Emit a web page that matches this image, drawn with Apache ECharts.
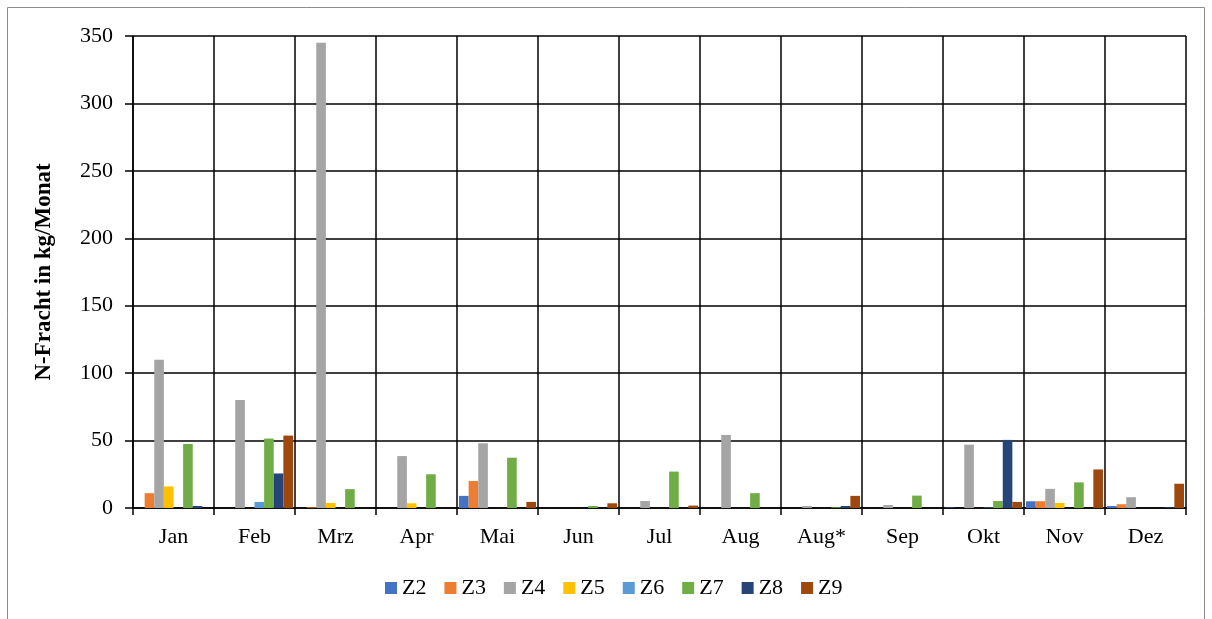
<!DOCTYPE html>
<html lang="de">
<head>
    <meta charset="UTF-8">
    <title>N-Fracht</title>
    <script src="https://cdn.jsdelivr.net/npm/echarts@6/dist/echarts.min.js"></script>
    <style>
        html, body { margin: 0; padding: 0; background: #fff; }
        #chart { width: 1212px; height: 619px; }
    </style>
</head>
<body>
<div id="chart"></div>
<script type="text/javascript">
	// Monate (Kategorien)
	var months = ['Jan', 'Feb', 'Mrz', 'Apr', 'Mai', 'Jun', 'Jul', 'Aug', 'Aug*', 'Sep', 'Okt', 'Nov', 'Dez'];
	var seriesNames = ['Z2', 'Z3', 'Z4', 'Z5', 'Z6', 'Z7', 'Z8', 'Z9'];
	var colors = ['#4472C4', '#ED7D31', '#A5A5A5', '#FFC000', '#5B9BD5', '#70AD47', '#264478', '#9E480E'];

	// Werte je Messstelle, kg/Monat
	var z2 = [0, 0, 0, 0, 9, 0, 0, 0, 0, 0, 0.3, 5, 1.5];
	var z3 = [11, 0, 0.5, 0, 20, 0, 0, 0, 0, 0, 0, 5, 2.8];
	var z4 = [110, 80, 345, 38.5, 48, 0, 5.2, 54.2, 1.5, 2.2, 47, 14.2, 8];
	var z5 = [16, 0, 3.7, 3.5, 0, 0, 0, 0, 0, 0, 0, 3.7, 0];
	var z6 = [0, 4.5, 0, 0, 0, 0, 0, 0, 0, 0, 0.3, 0, 0];
	var z7 = [47.5, 51.5, 14, 25, 37.3, 1.5, 27, 11, 0.5, 9.2, 5.2, 19, 0];
	var z8 = [1.5, 25.6, 0, 0, 0, 0, 0, 0, 1.5, 0, 50.5, 0, 0.5];
	var z9 = [0, 53.7, 0, 0, 4.5, 3.5, 1.8, 0, 9, 0, 4.5, 28.6, 18];

	var yTicks = [0, 50, 100, 150, 200, 250, 300, 350];

	var allData = [z2, z3, z4, z5, z6, z7, z8, z9];
	var series = [];
	for (var i = 0; i < seriesNames.length; i++) {
		series.push({
			name: seriesNames[i],
			type: 'bar',
			barGap: '0%',
			barCategoryGap: '5%',
			itemStyle: { color: colors[i] },
			data: allData[i]
		});
	}

	var font = '"Liberation Serif", "Times New Roman", serif';
	var chart = echarts.init(document.getElementById('chart'));
	var option = {
		animation: false,
		color: colors,
		textStyle: { fontFamily: font, color: '#000' },
		graphic: [{
			type: 'rect',
			shape: { x: 7.5, y: 7.5, width: 1197, height: 620 },
			style: { fill: 'none', stroke: '#8c8c8c', lineWidth: 1 },
			silent: true
		}],
		grid: { left: 133, right: 26, top: 36, bottom: 111 },
		legend: {
			bottom: 15,
			left: 380,
			itemWidth: 12,
			itemHeight: 12,
			itemGap: 18,
			icon: 'rect',
			textStyle: { fontFamily: font, fontSize: 22, color: '#000' },
			data: seriesNames
		},
		xAxis: {
			type: 'category',
			data: months,
			axisLine: { lineStyle: { color: '#000', width: 1.5 } },
			axisTick: { show: true, length: 7, lineStyle: { color: '#000', width: 1.5 } },
			axisLabel: { fontFamily: font, fontSize: 22, color: '#000', margin: 18 },
			splitLine: { show: true, lineStyle: { color: '#000', width: 1.5 } }
		},
		yAxis: {
			type: 'value',
			min: yTicks[0],
			max: yTicks[yTicks.length - 1],
			interval: 50,
			name: 'N-Fracht in kg/Monat',
			nameLocation: 'middle',
			nameGap: 77,
			nameTextStyle: { fontFamily: font, fontSize: 23, fontWeight: 'bold', color: '#000' },
			axisLine: { show: true, lineStyle: { color: '#000', width: 1.5 } },
			axisTick: { show: true, length: 8, lineStyle: { color: '#000', width: 1.5 } },
			axisLabel: { fontFamily: font, fontSize: 22, color: '#000', margin: 20 },
			splitLine: { show: true, lineStyle: { color: '#000', width: 1.5 } }
		},
		series: series
	};
	chart.setOption(option);
</script>
</body>
</html>
